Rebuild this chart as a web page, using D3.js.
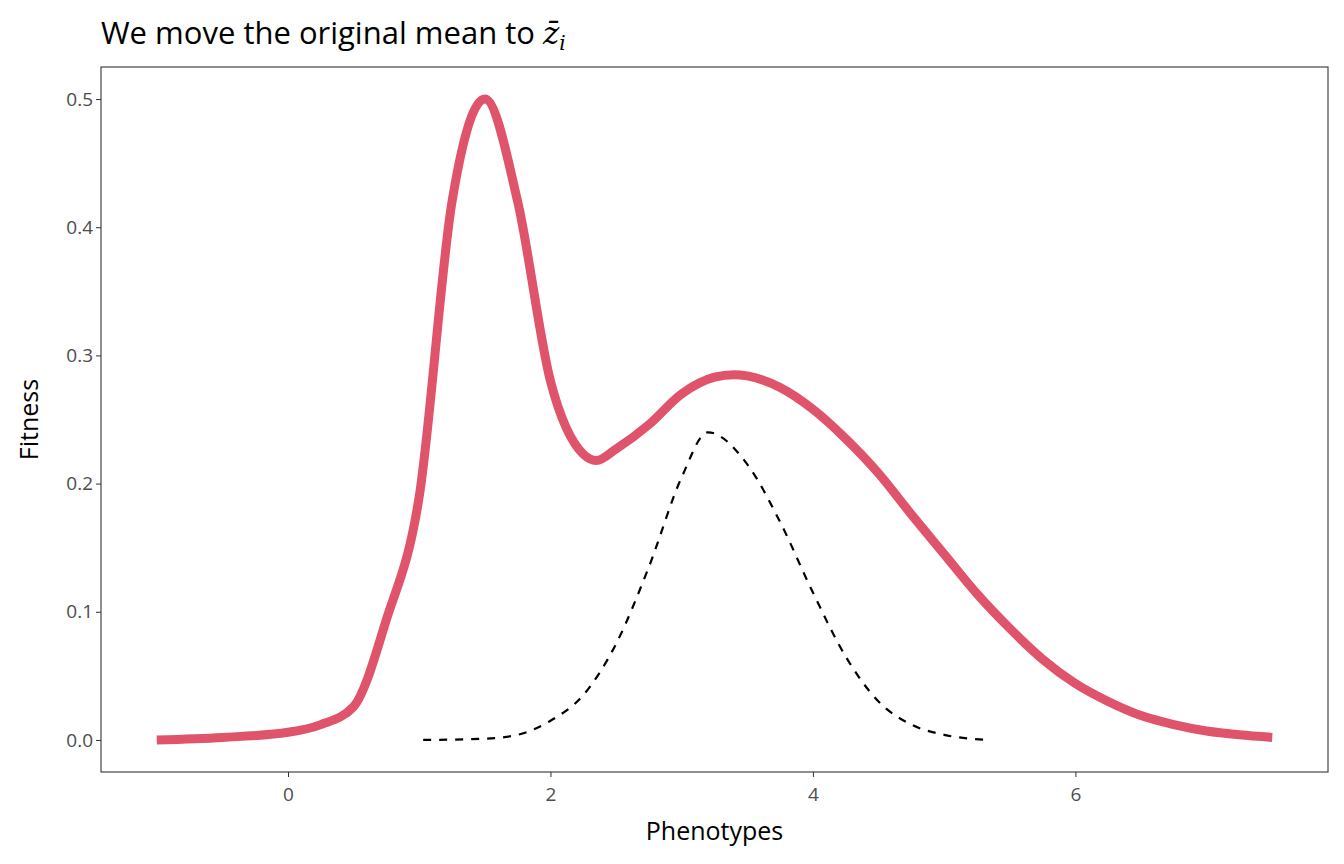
<!DOCTYPE html>
<html><head><meta charset="utf-8">
<script src="https://cdn.jsdelivr.net/npm/d3@7"></script>
<style>body{margin:0;background:#fff;font-family:"Open Sans",sans-serif}</style>
</head><body><svg></svg>
<script>
// fitness curve (red)
let fitX = [-1,-0.5,0,0.25,0.5,0.75,1,1.25,1.5,1.75,2,2.25,2.35,2.5,2.75,3,3.25,3.4,3.5,3.75,4,4.25,4.5,4.75,5,5.25,5.5,5.75,6,6.25,6.5,6.75,7,7.25,7.5];
let fitY = [0,0.002,0.006,0.012,0.026,0.094,0.19,0.42,0.5,0.42,0.28,0.223,0.218,0.227,0.246,0.27,0.283,0.285,0.284,0.275,0.258,0.235,0.208,0.176,0.145,0.114,0.087,0.063,0.044,0.030,0.019,0.012,0.007,0.004,0.002];
// phenotype distribution (dashed)
let distX = [1.03,1.5,1.75,2,2.25,2.5,2.75,3,3.2,3.5,3.75,4,4.25,4.5,4.75,5,5.35];
let distY = [0,0.001,0.004,0.015,0.035,0.075,0.135,0.205,0.24,0.215,0.17,0.115,0.065,0.03,0.012,0.004,0];
let xTicks = [0,2,4,6];
let yTicks = [0,0.1,0.2,0.3,0.4,0.5];

let width = 1344, height = 864;
let pLeft = 101, pRight = 1328, pTop = 67, pBottom = 772;
let svg = d3.select("svg").attr("width", width).attr("height", height);

let scaleX = d3.scaleLinear().domain([-1.425, 7.925]).range([pLeft, pRight]);
let scaleY = d3.scaleLinear().domain([-0.025, 0.525]).range([pBottom, pTop]);

svg.append("rect").attr("x", pLeft).attr("y", pTop)
    .attr("width", pRight - pLeft).attr("height", pBottom - pTop)
    .attr("fill", "none").attr("stroke", "#333").attr("stroke-width", 1.1);

let axisX = svg.append("g").attr("transform", `translate(0, ${pBottom})`)
    .call(d3.axisBottom(scaleX).tickValues(xTicks).tickSize(5).tickFormat(d3.format("d")));
let axisY = svg.append("g").attr("transform", `translate(${pLeft}, 0)`)
    .call(d3.axisLeft(scaleY).tickValues(yTicks).tickSize(5).tickFormat(d3.format(".1f")));
for (let a of [axisX, axisY]) {
    a.select(".domain").remove();
    a.selectAll("line").attr("stroke", "#333");
    a.selectAll("text").attr("fill", "#4d4d4d").style("font-size", "19px").style("font-family", "Open Sans");
}
axisX.selectAll("text").attr("dy", "1.1em");

let line = d3.line().x(d => scaleX(d[0])).y(d => scaleY(d[1])).curve(d3.curveMonotoneX);
svg.append("path").datum(fitX.map((x, i) => [x, fitY[i]]))
    .attr("d", line).attr("fill", "none").attr("stroke", "#DF536B").attr("stroke-width", 9);
svg.append("path").datum(distX.map((x, i) => [x, distY[i]]))
    .attr("d", line).attr("fill", "none").attr("stroke", "#000").attr("stroke-width", 2.2)
    .attr("stroke-dasharray", "8,8");

svg.append("text").attr("x", (pLeft + pRight) / 2).attr("y", 840).attr("text-anchor", "middle")
    .style("font-size", "25px").text("Phenotypes");
svg.append("text").attr("transform", `translate(38, ${(pTop + pBottom) / 2}) rotate(-90)`)
    .attr("text-anchor", "middle").style("font-size", "25px").text("Fitness");

let title = svg.append("text").attr("x", 101).attr("y", 44).style("font-size", "31px");
title.append("tspan").text("We move the original mean to ");
title.append("tspan").style("font-family", "DejaVu Serif").style("font-style", "italic").text("z\u0304");
title.append("tspan").style("font-family", "DejaVu Serif").style("font-style", "italic")
    .style("font-size", "20px").attr("dy", 6).text("i");
</script></body></html>
